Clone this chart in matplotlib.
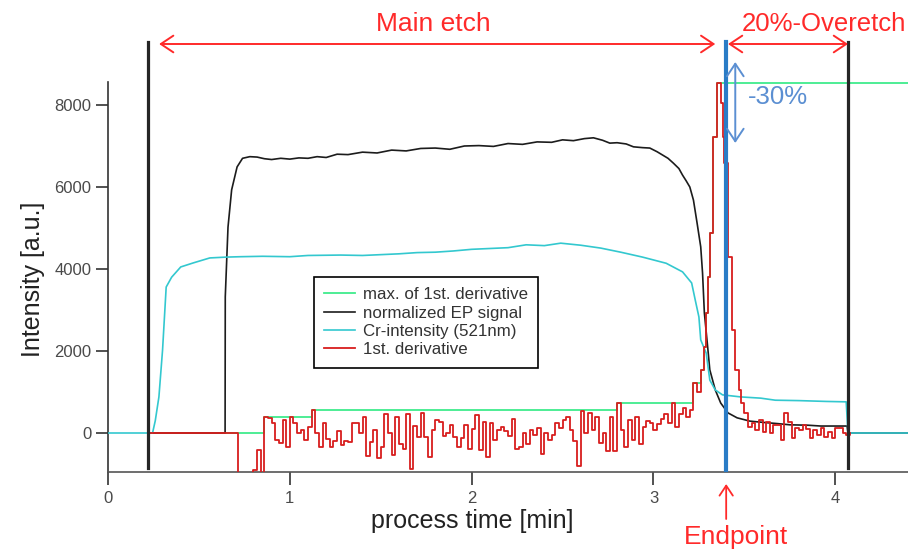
import numpy as np
import matplotlib
matplotlib.use("Agg")
import matplotlib.pyplot as plt
from matplotlib.patches import FancyArrowPatch

plt.rcParams['font.family'] = ['Liberation Sans', 'DejaVu Sans']

# ---------------- data (time in min, intensity in a.u.) ----------------
black_t = [0.22, 0.644, 0.645, 0.66, 0.68, 0.71, 0.74, 0.78, 0.82, 0.86, 0.90, 0.95, 1.00, 1.05,
           1.10, 1.15, 1.20, 1.26, 1.32, 1.40, 1.48, 1.56, 1.64, 1.72, 1.80, 1.88, 1.96, 2.04,
           2.12, 2.20, 2.28, 2.36, 2.44, 2.50, 2.56, 2.62, 2.67, 2.72, 2.76, 2.80, 2.85, 2.89,
           2.94, 2.98, 3.02, 3.05, 3.08, 3.11, 3.14, 3.16, 3.18, 3.20, 3.22, 3.24, 3.26, 3.27,
           3.28, 3.296, 3.31, 3.34, 3.37, 3.41, 3.46, 3.53, 3.60, 3.68, 3.75, 3.85, 3.92, 4.00,
           4.065, 4.07, 4.40]
black_v = [0, 0, 3320, 5020, 5930, 6490, 6700, 6740, 6730, 6690, 6670, 6700, 6680, 6710,
           6700, 6740, 6720, 6800, 6790, 6850, 6830, 6900, 6880, 6940, 6950, 6920, 7000, 7010,
           6990, 7060, 7040, 7100, 7090, 7150, 7130, 7180, 7200, 7140, 7070, 7080, 7050, 6980,
           6960, 6950, 6860, 6780, 6700, 6580, 6450, 6290, 6150, 6000, 5680, 5120, 4540, 3900,
           2930, 2200, 1540, 1050, 730, 490, 370, 290, 260, 230, 200, 190, 170, 170,
           170, 0, 0]

cyan_t = [0.00, 0.245, 0.26, 0.28, 0.30, 0.32, 0.35, 0.40, 0.47, 0.56, 0.65, 0.73, 0.85, 1.0,
          1.1, 1.28, 1.4, 1.5, 1.6, 1.7, 1.8, 1.9, 2.0, 2.1, 2.2, 2.3, 2.4, 2.49, 2.60, 2.71,
          2.82, 2.94, 3.07, 3.16, 3.21, 3.23, 3.25, 3.26, 3.29, 3.31, 3.34, 3.38, 3.48, 3.59,
          3.67, 3.80, 3.95, 4.06, 4.07, 4.40]
cyan_v = [0, 0, 300, 880, 2020, 3560, 3800, 4050, 4150, 4270, 4290, 4300, 4310, 4300,
          4330, 4340, 4330, 4350, 4370, 4400, 4410, 4440, 4480, 4500, 4520, 4590, 4570, 4630,
          4580, 4510, 4410, 4290, 4140, 3930, 3660, 3240, 2830, 2270, 1950, 1290, 1050, 930,
          880, 850, 800, 790, 770, 760, 0, 0]

# 1st derivative: start, noisy section (sampled every 0.02 min from 0.86), peak, tail (every 0.02 from 3.54)
red_head_t = [0.22, 0.715, 0.80, 0.82, 0.84]
red_head_v = [0, -1500, -900, -410, -1500]
red_noise_start = 0.86
red_noise_v = [390, 360, 250, -170, -250, 320, -340, 390,
               240, 0, 80, -170, 150, 560, -10, -330, 240, -150,
               -330, -200, 40, -300, -200, -220, 240, 240, 0, 390,
               -550, -230, 70, -620, -330, 470, 0, -530, 390, -270,
               -400, 470, -880, 160, -100, 480, -100, -580, 70, 320,
               280, -80, 10, 200, -100, -330, -130, 200, -400, 100,
               440, -410, 280, -580, 240, -170, 80, 150, 40, -80,
               350, -400, -330, -10, -280, 70, -50, 120, -500, 10,
               -170, -50, 240, 120, 320, 400, 70, -200, -800, 540,
               0, 480, 80, 400, -250, 0, -450, 400, -450, 730,
               80, -330, 320, -170, 390, -280, 150, 300, 250, 70,
               220, 350, 460, 250, 730, 150, 460, 600, 380, 550]
red_peak_t = [3.22, 3.24, 3.26, 3.28, 3.29, 3.30, 3.31, 3.33, 3.35, 3.37, 3.38, 3.39, 3.41,
              3.43, 3.45, 3.47, 3.48, 3.50, 3.52]
red_peak_v = [1220, 1000, 1540, 2100, 2930, 3800, 4880, 7220, 8540, 8050, 7220, 6580, 4290,
              2510, 1540, 1050, 730, 490, 150]
red_tail_start = 3.54
red_tail_v = [250, 70, 320, 30, 280, 0, 200, 190, -170, 490, 280, -130, 110, 70, 190,
              100, -130, 70, -50, 110, -90, 30, -130, 110, 110, -10, -50]
red_end_t = [4.08]
red_end_v = [0]

green_t = [0.22, 0.86, 1.12, 2.80, 3.22, 3.26, 3.28, 3.29, 3.30, 3.31, 3.33, 3.35, 4.40]
green_v = [0, 390, 560, 740, 1220, 1540, 2100, 2930, 3800, 4880, 7220, 8540, 8540]

etch_start = 0.22
endpoint = 3.40
overetch_end = 4.07

x_ticks = [0, 1, 2, 3, 4]
y_ticks = [0, 2000, 4000, 6000, 8000]

# ---------------- assemble red series ----------------
red_noise_t = red_noise_start + 0.02 * np.arange(len(red_noise_v))
red_tail_t = red_tail_start + 0.02 * np.arange(len(red_tail_v))
red_t = np.concatenate([red_head_t, red_noise_t, red_peak_t, red_tail_t, red_end_t])
red_v = np.concatenate([red_head_v, red_noise_v, red_peak_v, red_tail_v, red_end_v])

# ---------------- figure ----------------
W, H = 908, 550
fig = plt.figure(figsize=(W / 100, H / 100), dpi=100)


def ypx(px):
    """convert a pixel row of the reference to data y"""
    return (433 - px) / 82 * 2000


ax = fig.add_axes([108 / W, 1 - 472 / H, 800 / W, (472 - 42) / H])
ax.set_xlim(0, 4.40)
ax.set_ylim(ypx(472), ypx(42))

l_green, = ax.plot(green_t, green_v, color='#3fec8c', lw=1.3, drawstyle='steps-post',
                   label='max. of 1st. derivative', zorder=2)
l_black, = ax.plot(black_t, black_v, color='#1c1c1c', lw=1.2, label='normalized EP signal', zorder=3)
l_red, = ax.plot(red_t, red_v, color='#d81e1e', lw=1.3, drawstyle='steps-post',
                 label='1st. derivative', zorder=4)
l_cyan, = ax.plot(cyan_t, cyan_v, color='#33c8cf', lw=1.2, label='Cr-intensity (521nm)', zorder=3)

# vertical markers
ax.plot([etch_start, etch_start], [ypx(468), ypx(42)], color='#262626', lw=2.3, zorder=6, clip_on=False)
ax.plot([overetch_end, overetch_end], [ypx(468), ypx(42)], color='#262626', lw=2.3, zorder=6, clip_on=False)
ax.plot([endpoint, endpoint], [ypx(470), ypx(42)], color='#2a7cc6', lw=3.0, zorder=6, clip_on=False)

# spines / ticks
for s in ['top', 'right']:
    ax.spines[s].set_visible(False)
ax.spines['left'].set_bounds(ypx(472), 8550)
ax.spines['left'].set_linewidth(1.2)
ax.spines['bottom'].set_linewidth(1.2)
ax.spines['left'].set_color('#333333')
ax.spines['bottom'].set_color('#555555')
ax.set_xticks(x_ticks)
ax.set_xticklabels([str(v) for v in x_ticks])
ax.set_yticks(y_ticks)
ax.set_yticklabels([str(v) for v in y_ticks])
ax.tick_params(axis='both', direction='out', length=9, width=1.2, colors='#333333',
               labelsize=12, labelcolor='#4a4a4a')
ax.tick_params(axis='y', pad=3)
ax.tick_params(axis='x', pad=5)

# axis labels
fig.text(472 / W, 1 - 521 / H, 'process time [min]', ha='center', va='center', fontsize=18, color='#222222')
fig.text(33 / W, 1 - 279 / H, 'Intensity [a.u.]', ha='center', va='center', rotation=90,
         fontsize=18, color='#222222')

# top annotations
red_col = '#ff2a2a'
arr_kw = dict(arrowstyle='<->,head_length=0.45,head_width=0.3', mutation_scale=20,
              color=red_col, lw=1.4, shrinkA=0, shrinkB=0, clip_on=False, zorder=7)
ax.add_patch(FancyArrowPatch((0.281, ypx(44)), (3.34, ypx(44)), **arr_kw))
ax.add_patch(FancyArrowPatch((3.41, ypx(44)), (4.07, ypx(44)), **arr_kw))
ax.text(1.79, ypx(24), 'Main etch', ha='center', va='center', fontsize=19, color=red_col, clip_on=False)
ax.text(3.488, ypx(24), '20%-Overetch', ha='left', va='center', fontsize=18.5, color=red_col, clip_on=False)

# -30% arrow
blue_col = '#5b8fd2'
ax.add_patch(FancyArrowPatch((3.45, ypx(62)), (3.45, ypx(143)),
                             arrowstyle='<->,head_length=0.45,head_width=0.3', mutation_scale=20,
                             color=blue_col, lw=1.4, shrinkA=0, shrinkB=0, zorder=7))
ax.text(3.521, ypx(97), '-30%', ha='left', va='center', fontsize=18.5, color=blue_col)

# Endpoint arrow
ax.add_patch(FancyArrowPatch((endpoint, ypx(519)), (endpoint, ypx(484)),
                             arrowstyle='->,head_length=0.45,head_width=0.3', mutation_scale=16,
                             color=red_col, lw=1.3, shrinkA=0, shrinkB=0, clip_on=False, zorder=7))
ax.text(3.455, ypx(537), 'Endpoint', ha='center', va='center', fontsize=19, color=red_col, clip_on=False)

# legend
leg = ax.legend(handles=[l_green, l_black, l_cyan, l_red], loc='upper left',
                bbox_to_anchor=(314 / W, 1 - 277 / H), bbox_transform=fig.transFigure,
                borderaxespad=0, fontsize=12.2, frameon=True, fancybox=False,
                handlelength=1.8, handletextpad=0.5, labelspacing=0.2, borderpad=0.6)
leg.get_frame().set_edgecolor('black')
leg.get_frame().set_linewidth(1.2)
leg.get_frame().set_alpha(1)
leg.set_zorder(8)
for t in leg.get_texts():
    t.set_color('#333333')

fig.savefig('out.png', dpi=100)
